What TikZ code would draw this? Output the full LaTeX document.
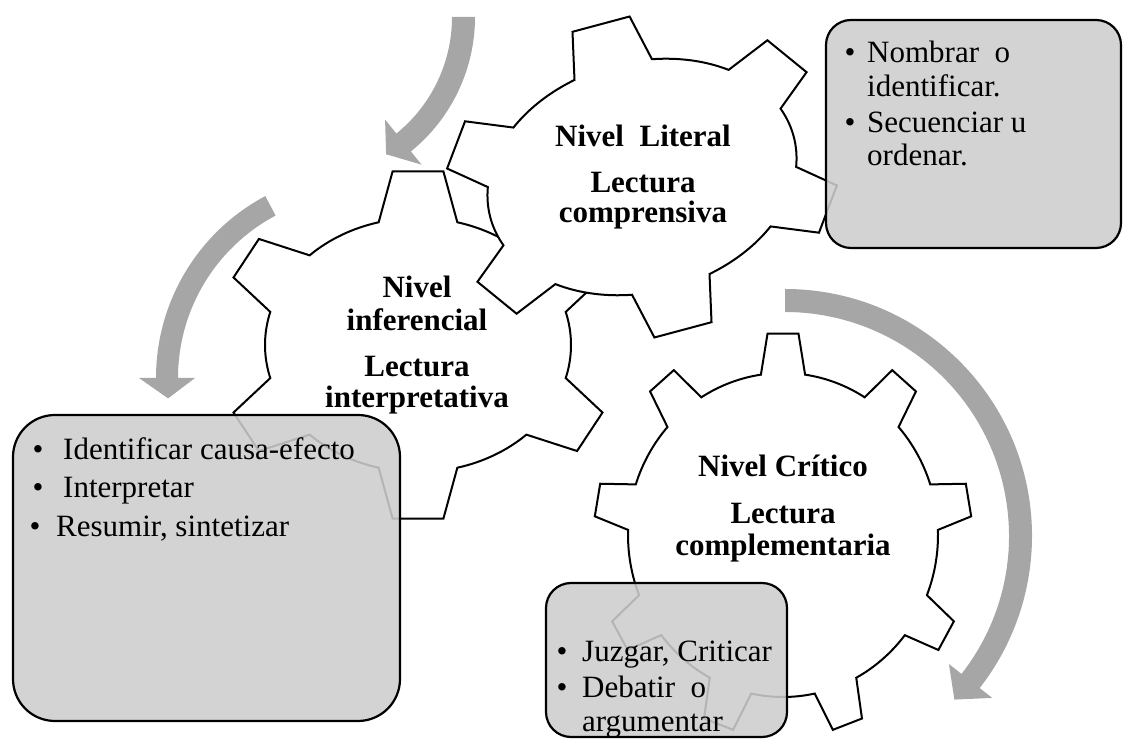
\documentclass[tikz,border=0pt]{standalone}
\usepackage{fontspec}
\setmainfont{Liberation Serif}
\definecolor{arrowgray}{HTML}{A6A6A6}
\definecolor{boxgray}{RGB}{205,205,205}
\tikzset{
  gearline/.style={draw=black, line width=2pt, fill=white, line join=miter},
  arrowfill/.style={fill=arrowgray},
  infobox/.style={draw=black, line width=2.2pt, fill=boxgray, fill opacity=0.88, rounded corners=#1},
  titletxt/.style={font=\fontsize{31}{31}\selectfont\bfseries, anchor=base, inner sep=0pt},
  bodytxt/.style={font=\fontsize{31}{31}\selectfont, anchor=base west, inner sep=0pt},
  bultxt/.style={font=\fontsize{31}{31}\selectfont, anchor=base, inner sep=0pt}
}
% #1 cx, #2 cy, #3 rotation, #4 inner x radius, #5 inner y radius,
% #6 outer x radius, #7 outer y radius, #8 teeth, #9 first tooth angle
\newcommand\drawgear[9]{%
  \begin{scope}[shift={(#1,#2)}, rotate=#3]
    \pgfmathsetmacro\gearstep{360/#8}
    \pgfmathtruncatemacro\gearlast{#8-1}
    \draw[gearline] ({#4*cos(#9-\gearB)},{#5*sin(#9-\gearB)})
      \foreach \k in {0,...,\gearlast}{
        -- ({#6*cos(#9+\k*\gearstep-\gearT)},{#7*sin(#9+\k*\gearstep-\gearT)})
        -- ({#6*cos(#9+\k*\gearstep+\gearT)},{#7*sin(#9+\k*\gearstep+\gearT)})
        -- ({#4*cos(#9+\k*\gearstep+\gearB)},{#5*sin(#9+\k*\gearstep+\gearB)})
        arc[start angle={#9+\k*\gearstep+\gearB}, end angle={#9+(\k+1)*\gearstep-\gearB}, x radius=#4pt, y radius=#5pt]
      } -- cycle;
  \end{scope}}
\begin{document}
\begin{tikzpicture}[x=1pt,y=1pt]
\useasboundingbox (0,0) rectangle (1123,738);
\clip (0,0) rectangle (1123,738);

% curved arrows
\begin{scope}[shift={(302,721)}]
  \fill[arrowfill] (0:173pt) arc[start angle=0,end angle=-51,radius=173pt]
    -- (-51:190pt) -- (-58.5:161pt) -- (-51:132pt) -- (-51:150pt)
    arc[start angle=-51,end angle=0,radius=150pt] -- cycle;
\end{scope}
\begin{scope}[shift={(362,360)}]
  \fill[arrowfill] (118:206pt) arc[start angle=118,end angle=180,radius=206pt]
    -- (180:223pt) -- (186:195pt) -- (180:167pt) -- (180:184pt)
    arc[start angle=180,end angle=118,radius=184pt] -- cycle;
\end{scope}
\begin{scope}[shift={(785,202)}]
  \fill[arrowfill] (90:247pt) arc[start angle=90,end angle=-38,radius=247pt]
    -- (-38:263pt) -- (-44:235.5pt) -- (-38:208pt) -- (-38:224pt)
    arc[start angle=-38,end angle=90,radius=224pt] -- cycle;
\end{scope}

% gears
\def\gearB{14.9}\def\gearT{7.3}
\drawgear{418}{393}{0}{153}{127}{200}{175}{6}{90}
\def\gearB{14.8}\def\gearT{8.5}
\drawgear{642}{561}{15}{157}{115}{200}{160}{6}{90}
\def\gearB{8.2}\def\gearT{4.7}
\drawgear{783}{203}{0}{155}{162}{189}{202}{9}{90}

% gear texts
\node[titletxt] (l1) at (643,591) {Nivel\ \ Literal};
\node[titletxt] (l2) at (643,545) {Lectura};
\node[titletxt] (l3) at (643,515) {comprensiva};
\node[titletxt] (i1) at (417,440) {Nivel};
\node[titletxt] (i2) at (417,407) {inferencial};
\node[titletxt] (i3) at (417,361) {Lectura};
\node[titletxt] (i4) at (417,330) {interpretativa};
\node[titletxt] (c1) at (783,261) {Nivel Crítico};
\node[titletxt] (c2) at (783,214) {Lectura};
\node[titletxt] (c3) at (783,182) {complementaria};

% boxes
\draw[infobox=25pt] (826,490) rectangle (1121,718);
\draw[infobox=42pt] (13,17) rectangle (400,323);
\draw[infobox=25pt] (546,1) rectangle (787,155);

% box 1 text
\node[bultxt] (b1a) at (850,675) {\textbullet};
\node[bodytxt] (t1a) at (867,675) {Nombrar\ \ o};
\node[bodytxt] (t1b) at (867,641) {identificar.};
\node[bultxt] (b1b) at (850,605) {\textbullet};
\node[bodytxt] (t1c) at (867,605) {Secuenciar u};
\node[bodytxt] (t1d) at (867,572) {ordenar.};

% box 2 text
\node[bultxt] (b2a) at (38,278) {\textbullet};
\node[bodytxt] (t2a) at (63,278) {Identificar causa-efecto};
\node[bultxt] (b2b) at (38,240) {\textbullet};
\node[bodytxt] (t2b) at (63,240) {Interpretar};
\node[bultxt] (b2c) at (35,201) {\textbullet};
\node[bodytxt] (t2c) at (56,201) {Resumir, sintetizar};

% box 3 text
\node[bultxt] (b3a) at (562,76) {\textbullet};
\node[bodytxt] (t3a) at (582,76) {Juzgar, Criticar};
\node[bultxt] (b3b) at (562,40) {\textbullet};
\node[bodytxt] (t3b) at (582,40) {Debatir\ \ o};
\node[bodytxt] (t3c) at (582,6) {argumentar};
\end{tikzpicture}
\end{document}
